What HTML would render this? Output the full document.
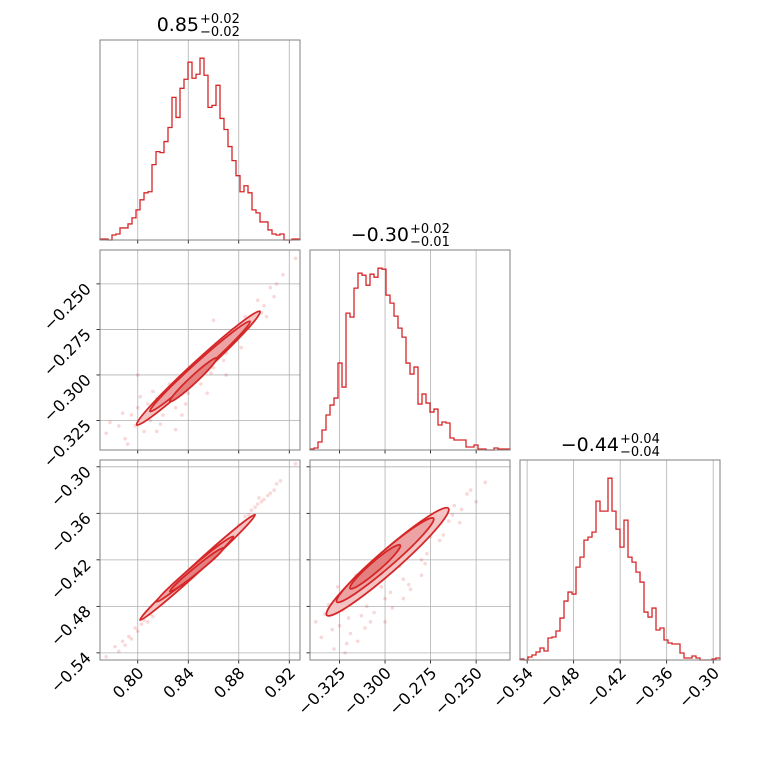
<!DOCTYPE html>
<html><head><meta charset="utf-8"><style>
body{margin:0;background:#fff;}
svg{display:block;font-family:"DejaVu Sans","Liberation Sans",sans-serif;}
</style></head><body>
<svg id="fig" width="760" height="760" viewBox="0 0 760 760" xmlns="http://www.w3.org/2000/svg"></svg>
<script>
// ---- data ----
const hist0Counts=[1,1,0,5,6,12,12,16,22,30,40,47,48,75,88,87,98,112,142,122,151,160,177,161,165,181,164,132,134,154,121,110,93,79,64,48,54,47,30,27,18,18,10,6,5,6,0,0,1,1];
const hist1Counts=[1,2,8,20,35,45,52,87,63,137,133,162,177,175,165,176,173,182,181,155,147,134,122,113,87,76,83,46,56,47,38,41,25,28,27,12,10,10,10,3,3,5,1,1,0,0,2,1,1,1];
const hist2Counts=[1,0,3,5,8,12,9,22,23,29,42,59,68,66,93,103,120,123,128,159,149,149,182,149,131,113,140,103,98,88,78,48,43,52,30,32,20,17,16,16,7,2,2,4,2,0,0,0,1,2];
const p0Ticks=[0.80,0.84,0.88,0.92];
const p0TickLabels=["0.80","0.84","0.88","0.92"];
const p1Ticks=[-0.325,-0.300,-0.275,-0.250];
const p1TickLabels=["\u22120.325","\u22120.300","\u22120.275","\u22120.250"];
const p2Ticks=[-0.54,-0.48,-0.42,-0.36,-0.30];
const p2TickLabels=["\u22120.54","\u22120.48","\u22120.42","\u22120.36","\u22120.30"];
const titles=[["0.85","+0.02","\u22120.02"],["\u22120.30","+0.02","\u22120.01"],["\u22120.44","+0.04","\u22120.04"]];
// contour levels: [x1,y1,x2,y2,halfWidth(data-y units)]
const c10Levels=[[0.7992,-0.3274,0.8968,-0.2651,0.0040],[0.8097,-0.3200,0.8889,-0.2706,0.0027],[0.8255,-0.3146,0.8625,-0.2907,0.0016]];
const c20Levels=[[0.8018,-0.4976,0.8929,-0.3618,0.0050],[0.8150,-0.4739,0.8757,-0.3898,0.0036],[0.8255,-0.4609,0.8678,-0.4048,0.0024]];
const c21Levels=[[-0.3320,-0.4915,-0.2652,-0.3535,0.016],[-0.3265,-0.4743,-0.2734,-0.3664,0.011],[-0.3192,-0.4570,-0.2917,-0.4010,0.006]];
const s10X=[0.775,0.785,0.79,0.795,0.80,0.805,0.81,0.815,0.82,0.825,0.83,0.835,0.84,0.845,0.85,0.855,0.86,0.865,0.87,0.875,0.88,0.885,0.89,0.895,0.90,0.905,0.91,0.915,0.925,0.80,0.86,0.83,0.87,0.792,0.812,0.778,0.788,0.798,0.808,0.818,0.828,0.838,0.848,0.858,0.868,0.878,0.888,0.898,0.908,0.802,0.822,0.842,0.862,0.882,0.902,0.815,0.835,0.855];
const s10Y=[-0.332,-0.328,-0.335,-0.322,-0.318,-0.331,-0.325,-0.313,-0.322,-0.305,-0.318,-0.300,-0.310,-0.296,-0.305,-0.290,-0.296,-0.282,-0.288,-0.275,-0.278,-0.268,-0.270,-0.259,-0.262,-0.252,-0.250,-0.245,-0.236,-0.300,-0.270,-0.330,-0.300,-0.338,-0.309,-0.326,-0.321,-0.328,-0.316,-0.327,-0.311,-0.316,-0.301,-0.299,-0.292,-0.281,-0.274,-0.266,-0.257,-0.312,-0.314,-0.304,-0.287,-0.285,-0.268,-0.331,-0.322,-0.310];
const s20X=[0.775,0.782,0.788,0.793,0.798,0.803,0.81,0.818,0.83,0.84,0.85,0.86,0.87,0.88,0.888,0.893,0.898,0.903,0.908,0.913,0.925,0.79,0.805,0.896,0.785,0.795,0.800,0.808,0.812,0.895,0.900,0.905,0.910,0.890,0.885];
const s20Y=[-0.545,-0.532,-0.525,-0.519,-0.508,-0.503,-0.490,-0.478,-0.460,-0.442,-0.427,-0.410,-0.392,-0.375,-0.362,-0.352,-0.345,-0.337,-0.330,-0.318,-0.296,-0.530,-0.498,-0.340,-0.538,-0.522,-0.512,-0.500,-0.493,-0.348,-0.342,-0.334,-0.322,-0.356,-0.364];
const s21X=[-0.338,-0.335,-0.331,-0.328,-0.325,-0.322,-0.318,-0.315,-0.312,-0.308,-0.305,-0.300,-0.295,-0.290,-0.285,-0.280,-0.275,-0.270,-0.265,-0.262,-0.258,-0.255,-0.250,-0.245,-0.320,-0.310,-0.300,-0.290,-0.280,-0.326,-0.316,-0.333,-0.329,-0.323,-0.319,-0.313,-0.306,-0.302,-0.297,-0.292,-0.287,-0.282,-0.277,-0.272,-0.268,-0.263,-0.259,-0.253,-0.321,-0.311,-0.296,-0.286,-0.278];
const s21Y=[-0.500,-0.520,-0.478,-0.535,-0.505,-0.540,-0.470,-0.525,-0.460,-0.500,-0.450,-0.470,-0.430,-0.445,-0.410,-0.420,-0.390,-0.395,-0.370,-0.350,-0.355,-0.335,-0.345,-0.320,-0.495,-0.480,-0.500,-0.470,-0.440,-0.455,-0.440,-0.490,-0.510,-0.485,-0.515,-0.492,-0.488,-0.455,-0.462,-0.428,-0.452,-0.400,-0.412,-0.378,-0.388,-0.362,-0.372,-0.330,-0.528,-0.508,-0.482,-0.458,-0.425];

// ---- axes ----
const NS="http://www.w3.org/2000/svg";
const svg=document.getElementById('fig');
const RED="#d62728";
const P0=[0.7701,0.9285], P1=[-0.3412,-0.2314], P2=[-0.5492,-0.2912];
const cols=[100,310,520], rows=[40,250,460], S=200;
function lin(d,r){return v=>r[0]+(v-d[0])/(d[1]-d[0])*(r[1]-r[0]);}
function mk(tag,attrs,parent){const e=document.createElementNS(NS,tag);for(const k in attrs)e.setAttribute(k,attrs[k]);(parent||svg).appendChild(e);return e;}
const ranges=[P0,P1,P2], ticks=[p0Ticks,p1Ticks,p2Ticks], tlabels=[p0TickLabels,p1TickLabels,p2TickLabels];

function panel(r,c){
  const x0=cols[c], y0=rows[r];
  const g=mk('g',{});
  
  
  const sx=lin(ranges[c],[x0,x0+S]);
  const sy=r===c?null:lin(ranges[r],[y0+S,y0]);
  ticks[c].forEach(t=>{const l=mk('line',{x1:sx(t),x2:sx(t),y1:y0,y2:y0+S,stroke:'#b0b0b0','stroke-width':0.8},g);
    });
  if(sy) ticks[r].forEach(t=>{const l=mk('line',{x1:x0,x2:x0+S,y1:sy(t),y2:sy(t),stroke:'#b0b0b0','stroke-width':0.8},g);
    });
  ticks[c].forEach((t,i)=>{mk('line',{x1:sx(t),x2:sx(t),y1:y0+S,y2:y0+S+3.5,stroke:'#000','stroke-width':0.8},g);
    if(r===2){const tx=mk('text',{x:sx(t)+7,y:y0+S+14,'font-size':16,'text-anchor':'end',transform:`rotate(-45 ${sx(t)+7} ${y0+S+14})`},g);
      tx.textContent=tlabels[c][i];
      
      }});
  if(sy) ticks[r].forEach((t,i)=>{mk('line',{x1:x0-3.5,x2:x0,y1:sy(t),y2:sy(t),stroke:'#000','stroke-width':0.8},g);
    if(c===0){const tx=mk('text',{x:x0-8,y:sy(t)+6,'font-size':16,'text-anchor':'end',transform:`rotate(-45 ${x0-8} ${sy(t)+6})`},g);
      tx.textContent=tlabels[r][i];
      
      }});
  return {g,sx,sy,x0,y0};
}

function hist(i,counts){
  const p=panel(i,i);
  const n=counts.length, mx=Math.max(...counts)*1.1;
  const rng=ranges[i], w=(rng[1]-rng[0])/n;
  const hy=v=>p.y0+S-v/mx*S;
  let d=`M${p.sx(rng[0])},${hy(0)}`;
  counts.forEach((v,k)=>{d+=` L${p.sx(rng[0]+k*w)},${hy(v)} L${p.sx(rng[0]+(k+1)*w)},${hy(v)}`;});
  d+=` L${p.sx(rng[1])},${hy(0)}`;
  const path=mk('path',{d,fill:'none',stroke:RED,'stroke-width':1.3},p.g);
  
  
  mk('rect',{x:p.x0,y:p.y0,width:S,height:S,fill:'none',stroke:'#808080','stroke-width':1},p.g);
  const t=titles[i], cx=p.x0+S/2;
  const tt=mk('text',{x:cx-1,y:p.y0-9,'font-size':19,'text-anchor':'end'},p.g);
  tt.textContent=t[0];
  
  
  const sup=mk('text',{x:cx,y:p.y0-17,'font-size':13},p.g);sup.textContent=t[1];
  
  
  const sub=mk('text',{x:cx,y:p.y0-4,'font-size':13},p.g);sub.textContent=t[2];
  
  
}

function scatter2d(r,c,xs,ys,levels){
  const p=panel(r,c);
  xs.forEach((x,k)=>{const d=mk('circle',{cx:p.sx(x),cy:p.sy(ys[k]),r:1.8,fill:RED,'fill-opacity':0.18},p.g);
    });
  const fills=['#f4c4c4','#eda3a3','#e58080'];
  levels.forEach((L,k)=>{
    const ax=p.sx(L[0]),ay=p.sy(L[1]),bx=p.sx(L[2]),by=p.sy(L[3]);
    const hw=Math.abs(p.sy(0)-p.sy(L[4]));
    const cx=(ax+bx)/2,cy=(ay+by)/2,len=Math.hypot(bx-ax,by-ay)/2,ang=Math.atan2(by-ay,bx-ax)*180/Math.PI;
    const e=mk('ellipse',{cx,cy,rx:len,ry:hw*Math.abs(Math.cos(ang*Math.PI/180))+1.5,fill:fills[k],stroke:RED,'stroke-width':1.8,transform:`rotate(${ang} ${cx} ${cy})`},p.g);
    
    
  });
  mk('rect',{x:p.x0,y:p.y0,width:S,height:S,fill:'none',stroke:'#808080','stroke-width':1},p.g);
}

hist(0,hist0Counts);
hist(1,hist1Counts);
hist(2,hist2Counts);
scatter2d(1,0,s10X,s10Y,c10Levels);
scatter2d(2,0,s20X,s20Y,c20Levels);
scatter2d(2,1,s21X,s21Y,c21Levels);
</script>
</body></html>
